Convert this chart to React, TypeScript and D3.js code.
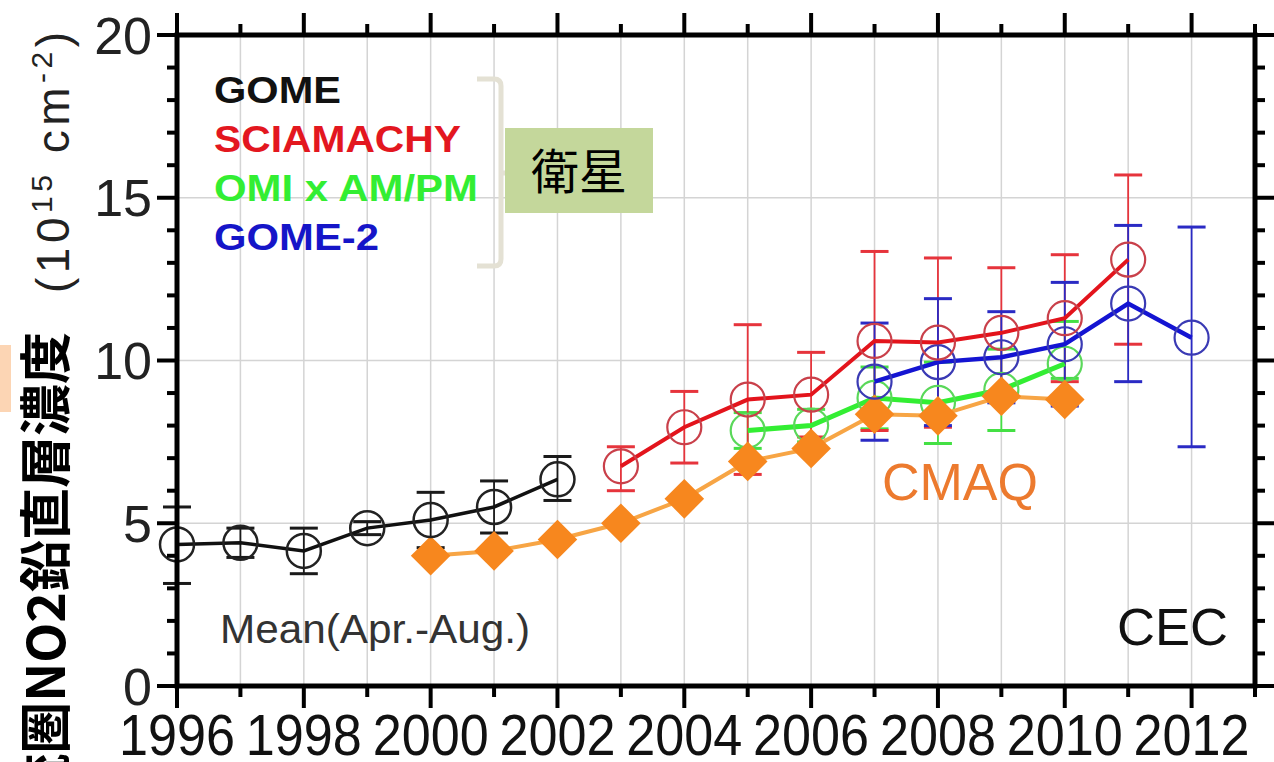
import React from "react";
import * as d3 from "d3";

// Tropospheric NO2 column, satellite retrievals vs. CMAQ model (Apr.–Aug. mean)
const gomeYears = [1996, 1997, 1998, 1999, 2000, 2001, 2002];
const gomeMean = [4.35, 4.4, 4.15, 4.85, 5.1, 5.5, 6.35];
const gomeHigh = [5.5, 4.85, 4.85, 5.05, 5.95, 6.3, 7.05];
const gomeLow = [3.15, 3.95, 3.45, 4.65, 4.25, 4.7, 5.7];

const sciaYears = [2003, 2004, 2005, 2006, 2007, 2008, 2009, 2010, 2011];
const sciaMean = [6.75, 7.95, 8.8, 8.95, 10.6, 10.55, 10.85, 11.3, 13.1];
const sciaHigh = [7.35, 9.05, 11.1, 10.25, 13.35, 13.15, 12.85, 13.25, 15.7];
const sciaLow = [6.0, 6.85, 6.5, 7.65, 7.85, 7.95, 8.85, 9.35, 10.5];

const omiYears = [2005, 2006, 2007, 2008, 2009, 2010];
const omiMean = [7.85, 8.0, 8.85, 8.7, 9.1, 9.9];
const omiHigh = [8.4, 8.5, 9.8, 9.95, 10.35, 11.2];
const omiLow = [7.3, 7.5, 7.9, 7.45, 7.85, 9.45];

const gome2Years = [2007, 2008, 2009, 2010, 2011, 2012];
const gome2Mean = [9.35, 9.95, 10.1, 10.5, 11.75, 10.7];
const gome2High = [11.15, 11.9, 11.5, 12.4, 14.15, 14.1];
const gome2Low = [7.55, 8.0, 8.7, 8.6, 9.35, 7.35];

const cmaqYears = [2000, 2001, 2002, 2003, 2004, 2005, 2006, 2007, 2008, 2009, 2010];
const cmaqMean = [4.0, 4.15, 4.5, 5.0, 5.75, 6.9, 7.3, 8.35, 8.3, 8.9, 8.8];

const yTicks = [0, 5, 10, 15, 20];
const xLabelYears = [1996, 1998, 2000, 2002, 2004, 2006, 2008, 2010, 2012];
const legendItems = [
  { label: "GOME", color: "#111111", width: 127 },
  { label: "SCIAMACHY", color: "#e3171f", width: 247 },
  { label: "OMI x AM/PM", color: "#33ee33", width: 264 },
  { label: "GOME-2", color: "#1515c8", width: 165 },
];

const W = 1274;
const H = 762;
const FONT = "'Liberation Sans', Arial, Helvetica, sans-serif";

const x = d3.scaleLinear().domain([1996, 2013]).range([177, 1255]);
const y = d3.scaleLinear().domain([0, 20]).range([686, 35]);

type Pt = { yr: number; v: number };
const zip = (yrs: number[], vals: number[]): Pt[] => yrs.map((yr, i) => ({ yr, v: vals[i] }));

const line = d3
  .line<Pt>()
  .x((d) => x(d.yr))
  .y((d) => y(d.v));

function ErrorBars({ years, high, low, color, stem = 1.8, cap = 3 }: any) {
  return (
    <g>
      {years.map((yr: number, i: number) => {
        const cx = x(yr);
        return (
          <g key={yr} stroke={color}>
            <line x1={cx} x2={cx} y1={y(high[i])} y2={y(low[i])} strokeWidth={stem} />
            <line x1={cx - 14} x2={cx + 14} y1={y(high[i])} y2={y(high[i])} strokeWidth={cap} />
            <line x1={cx - 14} x2={cx + 14} y1={y(low[i])} y2={y(low[i])} strokeWidth={cap} />
          </g>
        );
      })}
    </g>
  );
}

function Circles({ years, vals, color, sw = 2.2 }: any) {
  return (
    <g fill="none" stroke={color} strokeWidth={sw}>
      {years.map((yr: number, i: number) => (
        <circle key={yr} cx={x(yr)} cy={y(vals[i])} r={17} />
      ))}
    </g>
  );
}

export default function App() {
  const yearTicks = d3.range(1996, 2014);
  const unitTicks = d3.range(0, 21);
  const diamond = d3.symbol().type(d3.symbolDiamond2).size(1000);

  return (
    <svg
      width={W}
      height={H}
      style={{ position: "absolute", left: 0, top: 0, background: "#fff" }}
      fontFamily={FONT}
    >
      <rect x={0} y={0} width={W} height={H} fill="#fff" />

      {/* grid */}
      <g stroke="#d4d4d4" strokeWidth={1.5}>
        {d3.range(1997, 2013).map((yr) => (
          <line key={yr} x1={x(yr)} x2={x(yr)} y1={y(20)} y2={y(0)} />
        ))}
        {[5, 10, 15].map((v) => (
          <line key={v} x1={x(1996)} x2={x(2013)} y1={y(v)} y2={y(v)} />
        ))}
      </g>

      {/* error bars */}
      <ErrorBars years={gomeYears} high={gomeHigh} low={gomeLow} color="#1a1a1a" />
      <ErrorBars years={omiYears} high={omiHigh} low={omiLow} color="#44e044" />
      <ErrorBars years={sciaYears} high={sciaHigh} low={sciaLow} color="#e6343c" />
      <ErrorBars years={gome2Years} high={gome2High} low={gome2Low} color="#2a2ac4" />

      {/* OMI */}
      <path d={line(zip(omiYears, omiMean)) || ""} fill="none" stroke="#33ee33" strokeWidth={5} />
      <Circles years={omiYears} vals={omiMean} color="#5ad85a" />

      {/* CMAQ */}
      <path d={line(zip(cmaqYears, cmaqMean)) || ""} fill="none" stroke="#f7a545" strokeWidth={4} />
      <g fill="#f7871e">
        {cmaqYears.map((yr, i) => (
          <path key={yr} d={diamond() || ""} transform={`translate(${x(yr)},${y(cmaqMean[i])})`} />
        ))}
      </g>

      {/* GOME-2 */}
      <path d={line(zip(gome2Years, gome2Mean)) || ""} fill="none" stroke="#1414d2" strokeWidth={4.5} />
      <Circles years={gome2Years} vals={gome2Mean} color="#3a3ab4" />

      {/* SCIAMACHY */}
      <path d={line(zip(sciaYears, sciaMean)) || ""} fill="none" stroke="#e3141c" strokeWidth={4} />
      <Circles years={sciaYears} vals={sciaMean} color="#c9404a" />

      {/* GOME */}
      <path d={line(zip(gomeYears, gomeMean)) || ""} fill="none" stroke="#111" strokeWidth={3.5} />
      <Circles years={gomeYears} vals={gomeMean} color="#222" sw={2.5} />

      {/* frame and ticks */}
      <g stroke="#000" strokeWidth={4}>
        {yearTicks.map((yr) => {
          const len = yr % 2 === 0 ? 22 : 11;
          return (
            <g key={yr}>
              <line x1={x(yr)} x2={x(yr)} y1={y(0)} y2={y(0) + len} />
              <line x1={x(yr)} x2={x(yr)} y1={y(20)} y2={y(20) - len} />
            </g>
          );
        })}
        {unitTicks.map((v) => {
          const len = v % 5 === 0 ? 20 : 10;
          return (
            <g key={v}>
              <line x1={x(1996)} x2={x(1996) - len} y1={y(v)} y2={y(v)} />
              <line x1={x(2013)} x2={x(2013) + len} y1={y(v)} y2={y(v)} />
            </g>
          );
        })}
      </g>
      <rect
        x={x(1996)}
        y={y(20)}
        width={x(2013) - x(1996)}
        height={y(0) - y(20)}
        fill="none"
        stroke="#000"
        strokeWidth={5}
      />

      {/* y tick labels */}
      <g fill="#222" fontSize={52} textAnchor="end">
        {yTicks.map((v) => (
          <text key={v} x={152} y={y(v)} dy="0.36em">
            {v}
          </text>
        ))}
      </g>

      {/* x tick labels */}
      <g fill="#111" fontSize={58} textAnchor="middle">
        {xLabelYears.map((yr) => (
          <text key={yr} x={x(yr)} y={755} textLength={116} lengthAdjust="spacingAndGlyphs">
            {yr}
          </text>
        ))}
      </g>

      {/* legend */}
      <g fontSize={36} fontWeight="bold">
        {legendItems.map((it, i) => (
          <text
            key={it.label}
            x={214}
            y={103 + i * 49}
            fill={it.color}
            textLength={it.width}
            lengthAdjust="spacingAndGlyphs"
          >
            {it.label}
          </text>
        ))}
      </g>

      {/* bracket grouping the satellite products */}
      <path
        d="M477,79 L494,79 Q501,79 501,86 L501,259 Q501,266 494,266 L477,266 M501,173 L522,173"
        fill="none"
        stroke="#e4e1d4"
        strokeWidth={5}
      />
      <rect x={505} y={128} width={148} height={85} fill="#c4d79b" />
      <text
        x={579}
        y={172}
        dy="0.36em"
        textAnchor="middle"
        fontSize={48}
        fontFamily="'Noto Sans CJK JP', sans-serif"
        fill="#000"
      >
        衛星
      </text>

      {/* annotations */}
      <text x={220} y={643} fontSize={40} fill="#333" textLength={310} lengthAdjust="spacingAndGlyphs">
        Mean(Apr.-Aug.)
      </text>
      <text x={1117} y={645} fontSize={52} fill="#111" textLength={111} lengthAdjust="spacingAndGlyphs">
        CEC
      </text>
      <text x={882} y={500} fontSize={52} fill="#ec7a2e" textLength={156} lengthAdjust="spacingAndGlyphs">
        CMAQ
      </text>

      {/* y-axis title */}
      <rect x={0} y={345} width={11} height={67} fill="#fcd5b4" />
      <text
        transform="translate(47,332) rotate(-90)"
        textAnchor="end"
        dy="0.35em"
        fontSize={52}
        fontWeight="bold"
        fontFamily="'Noto Sans CJK JP', sans-serif"
        fill="#000"
      >
        対流圏NO2鉛直層濃度
      </text>
      <text
        transform="translate(53,293) rotate(-90)"
        dy="0.35em"
        fontSize={46}
        fill="#222"
        textLength={261}
        lengthAdjust="spacing"
      >
        (10
        <tspan fontSize={30} dy={-17}>
          15
        </tspan>
        <tspan dy={17}> cm</tspan>
        <tspan fontSize={30} dy={-17}>
          -2
        </tspan>
        <tspan dy={17}>)</tspan>
      </text>
    </svg>
  );
}
